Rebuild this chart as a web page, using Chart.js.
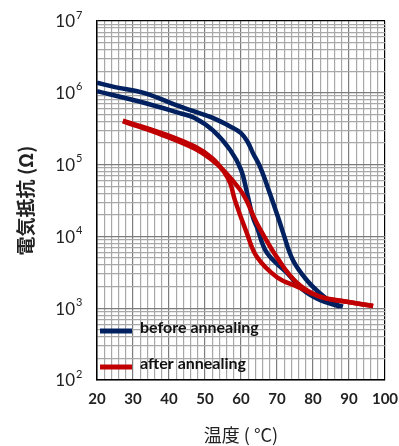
<!DOCTYPE html>
<html>
<head>
<meta charset="utf-8">
<script src="https://cdn.jsdelivr.net/npm/chart.js@4"></script>
<style>
  html, body { margin: 0; padding: 0; background: #fff; }
  #wrap { width: 399px; height: 446px; }
</style>
</head>
<body>
<div id="wrap"><canvas id="grafico"></canvas></div>
<script>
// temperaturas (°C) e resistências (Ω)
const tempAntesA = [20, 25, 33, 43, 47, 52, 57, 60, 62, 63.3, 65.3, 68, 70.8, 71.7, 74.4, 78.3, 81.9, 85.6, 88.3];
const resAntesA = [1.38e6, 1.2e6, 1.0e6, 6.45e5, 5.5e5, 4.5e5, 3.4e5, 2.75e5, 2.0e5, 1.45e5, 9.3e4, 4.0e4, 1.55e4, 1.12e4, 4.7e3, 2.45e3, 1.62e3, 1.17e3, 1.05e3];

const tempAntesB = [20, 33.3, 43, 47, 52.2, 57, 60, 61.7, 63.3, 64.4, 67.2, 72.8, 77.2, 81.9, 87.5];
const resAntesB = [1.05e6, 7.2e5, 5.2e5, 4.5e5, 3.0e5, 1.6e5, 8.5e4, 4.0e4, 1.85e4, 1.35e4, 5.9e3, 3.1e3, 1.8e3, 1.3e3, 1.05e3];

const tempDepoisA = [27.2, 38, 47.2, 52, 55, 57, 58.3, 61.6, 64.4, 70, 75.6, 81.9, 89.4, 96.7];
const resDepoisA = [4.1e5, 2.75e5, 1.78e5, 1.23e5, 8.3e4, 5.5e4, 3.2e4, 1.12e4, 5.2e3, 2.7e3, 2.0e3, 1.45e3, 1.23e3, 1.07e3];

const tempDepoisB = [27.2, 38, 47.2, 52, 55.6, 59.7, 61.5, 63.5, 65.3, 70, 75.6, 81.9, 89.4, 96.7];
const resDepoisB = [4.0e5, 2.6e5, 1.66e5, 1.15e5, 7.9e4, 4.5e4, 3.2e4, 1.9e4, 1.26e4, 5.1e3, 2.25e3, 1.45e3, 1.23e3, 1.07e3];

const legendaTextos = ["before annealing", "after annealing"];
const expoentesY = [2, 3, 4, 5, 6, 7];
const mantissasY = [1, 2, 3, 4, 5, 6, 7, 8, 9];

const corAntes = "#002060";
const corDepois = "#c00000";

function pontos(xs, ys) {
  return xs.map((x, i) => ({ x: x, y: ys[i] }));
}

// valores de grade do eixo Y (1..9 x 10^n)
const gradeY = [];
expoentesY.forEach((e) => {
  mantissasY.forEach((m) => {
    const v = m * Math.pow(10, e);
    if (v <= 1e7) gradeY.push(v);
  });
});

function serie(label, xs, ys, cor, ordem) {
  return {
    label: label,
    data: pontos(xs, ys),
    borderColor: cor,
    backgroundColor: cor,
    borderWidth: 4.5,
    pointRadius: 0,
    tension: 0.4,
    fill: false,
    order: ordem,
  };
}

// rótulos do eixo Y com expoente sobrescrito
const rotulosY = {
  id: "rotulosY",
  afterDraw(chart) {
    const ctx = chart.ctx;
    const y = chart.scales.y;
    ctx.save();
    ctx.fillStyle = "#222";
    ctx.textBaseline = "middle";
    expoentesY.forEach((e) => {
      const py = y.getPixelForValue(Math.pow(10, e));
      ctx.font = "17px Lato";
      ctx.textAlign = "right";
      ctx.fillText("10", 75, py + 1);
      ctx.font = "11px Lato";
      ctx.textAlign = "left";
      ctx.fillText(String(e), 76, py - 6);
    });
    ctx.restore();
  },
};

// legenda dentro da área do gráfico
const legendaInterna = {
  id: "legendaInterna",
  afterDraw(chart) {
    const ctx = chart.ctx;
    const cores = [corAntes, corDepois];
    const ys = [331, 367];
    ctx.save();
    legendaTextos.forEach((t, i) => {
      ctx.strokeStyle = cores[i];
      ctx.lineWidth = 5;
      ctx.beginPath();
      ctx.moveTo(100, ys[i]);
      ctx.lineTo(132, ys[i]);
      ctx.stroke();
      ctx.fillStyle = "#111";
      ctx.font = "bold 16px Lato";
      ctx.textAlign = "left";
      ctx.textBaseline = "middle";
      ctx.fillText(t, 140, ys[i] - 3);
    });
    ctx.restore();
  },
};

const grafico = new Chart(document.getElementById("grafico"), {
  type: "line",
  data: {
    datasets: [
      serie(legendaTextos[0], tempAntesA, resAntesA, corAntes, 2),
      serie(legendaTextos[0], tempAntesB, resAntesB, corAntes, 2),
      serie(legendaTextos[1], tempDepoisA, resDepoisA, corDepois, 1),
      serie(legendaTextos[1], tempDepoisB, resDepoisB, corDepois, 1),
    ],
  },
  options: {
    responsive: true,
    maintainAspectRatio: false,
    animation: false,
    layout: { padding: { top: 21, right: 14, left: 0, bottom: 0 } },
    plugins: {
      legend: { display: false },
      tooltip: { enabled: false },
    },
    scales: {
      x: {
        type: "linear",
        min: 20,
        max: 100,
        afterFit: (s) => {
          s.height = 66;
          s.paddingRight = 0;
          s.paddingLeft = 0;
        },
        ticks: {
          stepSize: 2,
          autoSkip: false,
          maxRotation: 0,
          padding: 10,
          color: "#222",
          font: { family: "Lato", size: 15, weight: "bold" },
          callback: (v) => (v % 10 === 0 ? v : ""),
        },
        grid: {
          drawTicks: false,
          lineWidth: 1.2,
          color: (c) => {
            const v = c.tick.value;
            if (v === 100) return "#000";
            return v % 10 === 0 ? "#7c7c7c" : "#a8a8a8";
          },
        },
        border: { color: "#000", width: 1.5 },
        title: {
          display: true,
          text: "温度 ( °C)",
          color: "#222",
          font: { family: "Noto Sans CJK JP", size: 18 },
          padding: { top: 0, bottom: 0 },
        },
      },
      y: {
        type: "logarithmic",
        min: 1e2,
        max: 1e7,
        afterFit: (s) => { s.width = 97; },
        afterBuildTicks: (s) => { s.ticks = gradeY.map((v) => ({ value: v })); },
        ticks: { display: false },
        grid: {
          drawTicks: false,
          lineWidth: 1.2,
          color: (c) => {
            const v = c.tick.value;
            if (v === 1e7) return "#000";
            return expoentesY.some((e) => Math.pow(10, e) === v) ? "#7c7c7c" : "#a8a8a8";
          },
        },
        border: { color: "#000", width: 1.5 },
        title: {
          display: true,
          text: "電気抵抗 (Ω)",
          color: "#222",
          font: { family: "Noto Sans CJK JP", size: 19, weight: "bold" },
          padding: { top: 14, bottom: 0 },
        },
      },
    },
  },
  plugins: [rotulosY, legendaInterna],
});
</script>
</body>
</html>
